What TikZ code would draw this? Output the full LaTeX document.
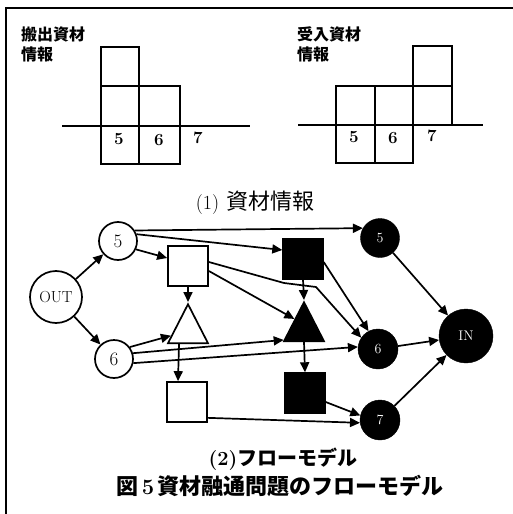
\documentclass[tikz,border=0pt]{standalone}
\usepackage{fontspec}
\newfontfamily\jp{Noto Sans CJK JP}
\usetikzlibrary{shapes.geometric,arrows.meta,calc}
\begin{document}
\begin{tikzpicture}[x=1pt,y=-1pt,
  conn/.style={line width=1.7pt,-{Triangle[length=10pt,width=9pt]}},
  wcirc/.style={circle,draw,line width=1.7pt,inner sep=0pt,fill=white,font=\fontsize{19}{21}\selectfont},
  bcirc/.style={circle,draw=black,fill=black,inner sep=0pt,text=white,font=\fontsize{14}{16}\selectfont},
  wsq/.style={rectangle,draw,line width=1.7pt,minimum size=40pt,inner sep=0pt},
  bsq/.style={rectangle,draw=black,fill=black,minimum size=41pt,inner sep=0pt},
  tri/.style={isosceles triangle,isosceles triangle stretches,shape border rotate=90,
    minimum width=40pt,minimum height=39pt,inner sep=0pt,line width=1.7pt,anchor=apex},
  cell/.style={line width=2.1pt},
  digit/.style={font=\bfseries\fontsize{17}{19}\selectfont},
  jlabel/.style={anchor=north west,align=left,inner sep=0pt,font=\jp\bfseries\fontsize{16}{20}\selectfont},
]
\useasboundingbox (0,0) rectangle (513,514);
\fill[white] (0,0) rectangle (513,514);
% frame
\draw[line width=2pt] (6,514) -- (6,8) -- (513,8);

% (1) left panel
\node[jlabel] (lbl1) at (21,27) {搬出資材\\情報};
\draw[cell] (101,47) rectangle (139,86);
\draw[cell] (101,86) rectangle (139,126);
\draw[cell] (139,86) rectangle (180,126);
\draw[cell] (101,126) rectangle (139,164);
\draw[cell] (139,126) rectangle (180,164);
\draw[cell] (62,126) -- (250,126);
\node[digit] (l5) at (119,139) {5};
\node[digit] (l6) at (159,140) {6};
\node[digit] (l7) at (198,138) {7};

% (1) right panel
\node[jlabel] (lbl2) at (297,27) {受入資材\\情報};
\draw[cell] (413,46) rectangle (452,86);
\draw[cell] (336,86) rectangle (375,125);
\draw[cell] (375,86) rectangle (413,125);
\draw[cell] (413,86) rectangle (452,125);
\draw[cell] (336,125) rectangle (375,163);
\draw[cell] (375,125) rectangle (413,163);
\draw[cell] (298,125) -- (483,125);
\node[digit] (r5) at (354,137) {5};
\node[digit] (r6) at (393,138) {6};
\node[digit] (r7) at (432,136) {7};

\node (cap1) at (255,203) {\fontsize{20}{22}\selectfont (1)\hspace{7pt}{\jp\fontsize{22}{24}\selectfont 資材情報}};

% (2) flow model nodes
\node[wcirc,minimum size=52pt,font=\fontsize{16}{18}\selectfont] (out) at (56,297) {OUT};
\node[wcirc,minimum size=38pt] (c5) at (118,241) {5};
\node[wcirc,minimum size=38pt] (c6) at (114,359) {6};
\node[wsq] (ws1) at (188,266) {};
\node[tri,draw,fill=white] (wt) at (188,302) {};
\node[wsq] (ws2) at (187,402) {};
\node[bsq] (bs1) at (303,259) {};
\node[tri,draw=black,fill=black] (bt) at (304,300) {};
\node[bsq] (bs2) at (305,393) {};
\node[bcirc,minimum size=39pt] (b5) at (380,238) {5};
\node[bcirc,minimum size=40pt] (b6) at (378,349) {6};
\node[bcirc,minimum size=40pt] (b7) at (380,420) {7};
\node[bcirc,minimum size=54pt] (in) at (466,336) {IN};

\coordinate (k1) at (284,283);
\coordinate (k2) at (316,287);

% edges
\draw[conn] (out) -- (c5);
\draw[conn] (out) -- (c6);
\draw[conn] (c5.32) -- (b5.150);
\draw[conn] (c5.20) -- ([yshift=9pt]bs1.west);
\draw[conn] (c5.-25) -- ([yshift=8pt]ws1.west);
\draw[conn] (ws1.south) -- (wt.apex);
\draw[conn] ([yshift=-5pt]ws1.east) -- ($(bt.apex)!0.45!(bt.left corner)$);
\draw[conn] ([yshift=4pt]ws1.east) -- (k1) -- (k2) -- (b6.146);
\draw[conn] (bs1.south) -- (bt.apex);
\draw[conn] ([yshift=-3pt]bs1.east) -- (b6.118);
\draw[conn] ($(bt.left corner)!0.5!(bt.right corner)$) -- (bs2.north);
\draw[conn] (c6.37) -- ($(wt.apex)!0.8!(wt.left corner)$);
\draw[conn] (c6.17) -- ($(bt.apex)!0.95!(bt.left corner)$);
\draw[conn] (c6.-12) -- (b6.174);
\draw[conn] ([xshift=-9pt]$(wt.left corner)!0.5!(wt.right corner)$) -- ([xshift=-9pt]ws2.north);
\draw[conn] ([yshift=5pt]ws2.south east) -- (b7.188);
\draw[conn] ([yshift=-9pt]bs2.east) -- (b7.167);
\draw[conn] (b5) -- (in);
\draw[conn] (b6) -- (in);
\draw[conn] (b7) -- (in);

\node (cap2) at (283,459) {\bfseries\fontsize{20}{22}\selectfont (2){\jp フローモデル}};
\node (cap3) at (280,486) {\jp\bfseries\fontsize{22}{24}\selectfont 図{\rmfamily\,5\,}資材融通問題のフローモデル};
\end{tikzpicture}
\end{document}
